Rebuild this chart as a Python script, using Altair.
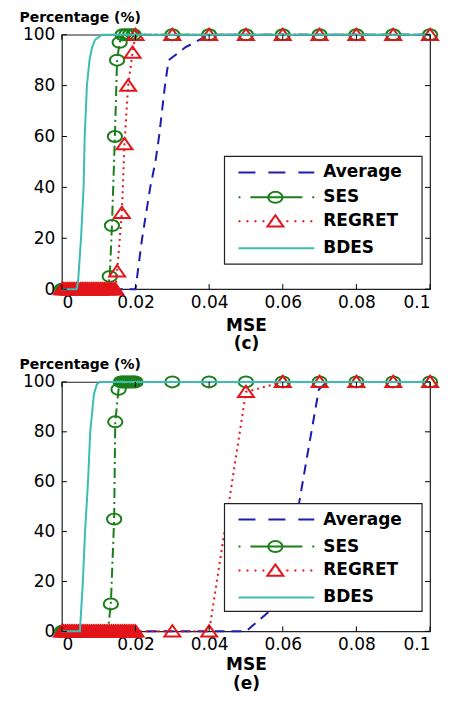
import altair as alt
import pandas as pd

SERIES = ["Average", "SES", "REGRET", "BDES"]
COLORS = ["#1c1cb0", "#1a7f1a", "#e3151a", "#3bbdb5"]
DASHES = [[10, 7], [10, 4, 2, 4], [2, 4], [1, 0]]
LEGEND_DASHES = [[17, 13], [2, 10, 52, 10, 2, 100], [2, 6], [1, 0]]

X_TICKS = [0, 0.02, 0.04, 0.06, 0.08, 0.1]
Y_TICKS = [0, 20, 40, 60, 80, 100]

# ---------------- panel (c) ----------------
c_avg_x = [0, 0.02, 0.0218, 0.024, 0.0254, 0.0264, 0.028, 0.029, 0.0335, 0.04, 0.1]
c_avg_y = [0, 0, 20, 40, 50, 60, 80, 90, 95, 100, 100]

c_ses_x = [0, 0.0005, 0.001, 0.0015, 0.002, 0.0025, 0.003, 0.0035, 0.004, 0.0045,
           0.005, 0.0055, 0.006, 0.0065, 0.007, 0.0075, 0.008, 0.0085, 0.009, 0.0095,
           0.01, 0.0105, 0.011, 0.0115, 0.012, 0.0125,
           0.013, 0.0136, 0.0144, 0.015, 0.0157, 0.0165, 0.0175, 0.0185, 0.0195,
           0.03, 0.04, 0.05, 0.06, 0.07, 0.08, 0.09, 0.1]
c_ses_y = [0, 0, 0, 0, 0, 0, 0, 0, 0, 0,
           0, 0, 0, 0, 0, 0, 0, 0, 0, 0,
           0, 0, 0, 0, 0, 0,
           5, 25, 60, 90, 97, 100, 100, 100, 100,
           100, 100, 100, 100, 100, 100, 100, 100]

c_reg_x = [0, 0.0005, 0.001, 0.0015, 0.002, 0.0025, 0.003, 0.0035, 0.004, 0.0045,
           0.005, 0.0055, 0.006, 0.0065, 0.007, 0.0075, 0.008, 0.0085, 0.009, 0.0095,
           0.01, 0.0105, 0.011, 0.0115, 0.012, 0.0125, 0.013, 0.0135, 0.014, 0.0145,
           0.015, 0.0163, 0.017, 0.018, 0.0192, 0.02,
           0.03, 0.04, 0.05, 0.06, 0.07, 0.08, 0.09, 0.1]
c_reg_y = [0, 0, 0, 0, 0, 0, 0, 0, 0, 0,
           0, 0, 0, 0, 0, 0, 0, 0, 0, 0,
           0, 0, 0, 0, 0, 0, 0, 0, 0, 0,
           7, 30, 57, 80, 93, 100,
           100, 100, 100, 100, 100, 100, 100, 100]

c_bdes_x = [0, 0.004, 0.0044, 0.0052, 0.0059, 0.0062, 0.0068, 0.0075, 0.0082, 0.009, 0.0109, 0.1]
c_bdes_y = [0, 0, 3, 20, 40, 60, 80, 90, 95, 98, 100, 100]

# ---------------- panel (e) ----------------
e_avg_x = [0, 0.05, 0.0563, 0.0645, 0.0666, 0.0698, 0.072, 0.1]
e_avg_y = [0, 0, 8, 52, 70, 97, 100, 100]

e_ses_x = [0, 0.0005, 0.001, 0.0015, 0.002, 0.0025, 0.003, 0.0035, 0.004, 0.0045,
           0.005, 0.0055, 0.006, 0.0065, 0.007, 0.0075, 0.008, 0.0085, 0.009, 0.0095,
           0.01, 0.0105, 0.011, 0.0115, 0.012, 0.0125,
           0.0133, 0.0142, 0.0145, 0.0154,
           0.016, 0.0165, 0.017, 0.0175, 0.018, 0.0185, 0.019, 0.0195, 0.02,
           0.03, 0.04, 0.05, 0.06, 0.07, 0.08, 0.09, 0.1]
e_ses_y = [0, 0, 0, 0, 0, 0, 0, 0, 0, 0,
           0, 0, 0, 0, 0, 0, 0, 0, 0, 0,
           0, 0, 0, 0, 0, 0,
           11, 45, 84, 97,
           100, 100, 100, 100, 100, 100, 100, 100, 100,
           100, 100, 100, 100, 100, 100, 100, 100]

e_reg_x = [0, 0.0005, 0.001, 0.0015, 0.002, 0.0025, 0.003, 0.0035, 0.004, 0.0045,
           0.005, 0.0055, 0.006, 0.0065, 0.007, 0.0075, 0.008, 0.0085, 0.009, 0.0095,
           0.01, 0.0105, 0.011, 0.0115, 0.012, 0.0125, 0.013, 0.0135, 0.014, 0.0145,
           0.015, 0.0155, 0.016, 0.0165, 0.017, 0.0175, 0.018, 0.0185, 0.019, 0.0195, 0.02,
           0.03, 0.04, 0.05, 0.06, 0.07, 0.08, 0.09, 0.1]
e_reg_y = [0, 0, 0, 0, 0, 0, 0, 0, 0, 0,
           0, 0, 0, 0, 0, 0, 0, 0, 0, 0,
           0, 0, 0, 0, 0, 0, 0, 0, 0, 0,
           0, 0, 0, 0, 0, 0, 0, 0, 0, 0, 0,
           0, 0, 96, 100, 100, 100, 100, 100]

e_bdes_x = [0, 0.0049, 0.0057, 0.0063, 0.0071, 0.0077, 0.0087, 0.0095, 0.0102, 0.1]
e_bdes_y = [0, 0, 20, 40, 60, 80, 95, 99, 100, 100]

CIRCLE = "M-1.3,0A1.3,1 0 1,0 1.3,0A1.3,1 0 1,0 -1.3,0Z"
TRIANGLE = "M-1.3,0.85L0,-1L1.3,0.85Z"
FONT = "DejaVu Sans"
W = 369


def panel(series_data, H, label, box_top, row_ys, x_title_y, x_title_lh):
    xenc = alt.X("x:Q", scale=alt.Scale(domain=[0, 0.1], nice=False),
                 axis=alt.Axis(values=X_TICKS, format="~g", title=["MSE", label],
                               titleY=x_title_y, titleBaseline="alphabetic",
                               titleLineHeight=x_title_lh, labelPadding=5))
    yenc = alt.Y("y:Q", scale=alt.Scale(domain=[0, 100], nice=False),
                 axis=alt.Axis(values=Y_TICKS, title="Percentage (%)", titleAngle=0,
                               titleX=-43, titleY=-13, titleAlign="left",
                               titleBaseline="alphabetic", titleFontSize=14,
                               labelPadding=7))
    layers = []
    frames = {}
    for name, (xs, ys) in series_data.items():
        frames[name] = pd.DataFrame({"x": xs, "y": ys})
    for i, name in enumerate(SERIES):
        df = frames[name]
        layers.append(alt.Chart(df).mark_line(color=COLORS[i], strokeDash=DASHES[i],
                                              strokeWidth=2).encode(x=xenc, y=yenc))
        if name == "SES":
            layers.append(alt.Chart(df).mark_point(shape=CIRCLE, size=121, filled=False,
                                                   color=COLORS[i], strokeWidth=2,
                                                   opacity=1, clip=False).encode(x=xenc, y=yenc))
        if name == "REGRET":
            layers.append(alt.Chart(df).mark_point(shape=TRIANGLE, size=150, filled=False,
                                                   color=COLORS[i], strokeWidth=2,
                                                   opacity=1, clip=False).encode(x=xenc, y=yenc))
    # inward ticks
    xt = pd.DataFrame({"x": X_TICKS})
    yt = pd.DataFrame({"y": Y_TICKS})
    layers.append(alt.Chart(xt).mark_rule(color="black", strokeWidth=1).encode(
        x=xenc, y=alt.value(H), y2=alt.value(H - 5)))
    layers.append(alt.Chart(xt).mark_rule(color="black", strokeWidth=1).encode(
        x=xenc, y=alt.value(0), y2=alt.value(5)))
    layers.append(alt.Chart(yt).mark_rule(color="black", strokeWidth=1).encode(
        y=yenc, x=alt.value(0), x2=alt.value(5)))
    layers.append(alt.Chart(yt).mark_rule(color="black", strokeWidth=1).encode(
        y=yenc, x=alt.value(W - 5), x2=alt.value(W)))
    # legend
    one = alt.Data(values=[{"k": 1}])
    layers.append(alt.Chart(one).mark_rect(fill="white", stroke="#222", strokeWidth=1.2).encode(
        x=alt.value(163), x2=alt.value(361), y=alt.value(box_top), y2=alt.value(box_top + 108)))
    for i, name in enumerate(SERIES):
        ry = row_ys[i]
        layers.append(alt.Chart(one).mark_rule(color=COLORS[i], strokeDash=LEGEND_DASHES[i],
                                               strokeWidth=2).encode(
            x=alt.value(177), x2=alt.value(253), y=alt.value(ry)))
        if name == "SES":
            layers.append(alt.Chart(one).mark_point(shape=CIRCLE, size=121, filled=False,
                                                    color=COLORS[i], strokeWidth=2, opacity=1).encode(
                x=alt.value(214), y=alt.value(ry)))
        if name == "REGRET":
            layers.append(alt.Chart(one).mark_point(shape=TRIANGLE, size=150, filled=False,
                                                    color=COLORS[i], strokeWidth=2, opacity=1).encode(
                x=alt.value(214), y=alt.value(ry)))
        layers.append(alt.Chart(one).mark_text(text=name, align="left", baseline="middle",
                                               font=FONT, fontSize=17, fontWeight="bold",
                                               color="black").encode(
            x=alt.value(262), y=alt.value(ry)))
    return alt.layer(*layers).properties(width=W, height=H)


top = panel({"Average": (c_avg_x, c_avg_y), "SES": (c_ses_x, c_ses_y),
             "REGRET": (c_reg_x, c_reg_y), "BDES": (c_bdes_x, c_bdes_y)},
            255, "(c)", 122, [138, 163, 187, 214], 41, 19)
bottom = panel({"Average": (e_avg_x, e_avg_y), "SES": (e_ses_x, e_ses_y),
                "REGRET": (e_reg_x, e_reg_y), "BDES": (e_bdes_x, e_bdes_y)},
               250, "(e)", 122, [138, 165, 189, 216], 38, 19)

chart = alt.vconcat(top, bottom, spacing=4).properties(
    padding={"left": 10, "top": 1, "right": 0, "bottom": 0},
    background="white",
).configure_view(stroke="#222", strokeWidth=1.2).configure_axis(
    domain=False, ticks=False, grid=False,
    labelFont=FONT, labelFontSize=17, labelColor="black",
    titleFont=FONT, titleFontSize=17, titleFontWeight="bold", titleColor="black",
)

chart.save("out.html", embed_options={"renderer": "svg", "actions": False})
